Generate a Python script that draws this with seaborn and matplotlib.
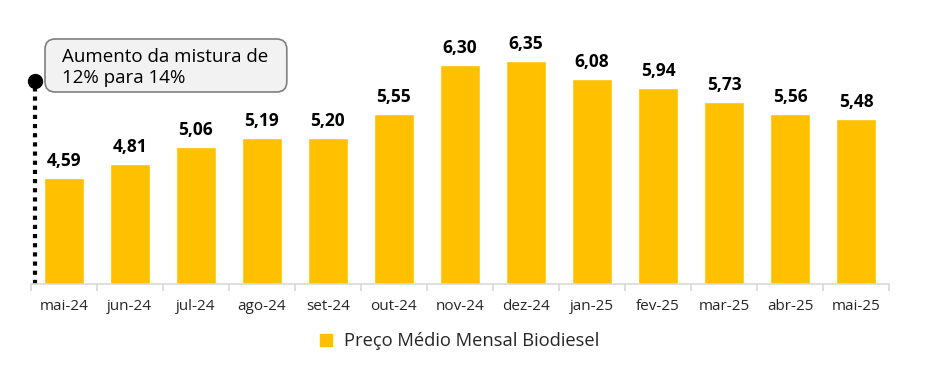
"""Preço médio mensal do biodiesel - gráfico de barras."""

import matplotlib.pyplot as plt
import pandas as pd
import seaborn as sns
from matplotlib.lines import Line2D
from matplotlib.patches import FancyBboxPatch

# Data
months = [
    "mai-24", "jun-24", "jul-24", "ago-24", "set-24", "out-24", "nov-24",
    "dez-24", "jan-25", "fev-25", "mar-25", "abr-25", "mai-25",
]
prices = [4.59, 4.81, 5.06, 5.19, 5.20, 5.55, 6.30, 6.35, 6.08, 5.94, 5.73, 5.56, 5.48]
series_name = "Preço Médio Mensal Biodiesel"
note_text = "Aumento da mistura de\n12% para 14%"

bar_color = "#FFC000"

df = pd.DataFrame({"mes": months, "preco": prices})

sns.set_style("white")
plt.rcParams["font.family"] = ["Open Sans", "DejaVu Sans"]

fig = plt.figure(figsize=(9.3, 3.75), dpi=100)
ax = fig.add_axes([0.033, 0.243, 0.923, 0.709])

sns.barplot(data=df, x="mes", y="preco", color=bar_color, width=0.6,
            saturation=1, ax=ax, label=series_name)

# Value labels
for i, v in enumerate(prices):
    ax.text(i, v + 0.12, f"{v:.2f}".replace(".", ","), ha="center", va="bottom",
            fontsize=12.5, fontweight="bold", color="black")

ax.set_ylim(3.0, 7.0)
ax.set_xlim(-0.5, len(months) - 0.5)
ax.set_xlabel("")
ax.set_ylabel("")
ax.set_yticks([])
for side in ["left", "right", "top"]:
    ax.spines[side].set_visible(False)
ax.spines["bottom"].set_color("#D9D9D9")
ax.spines["bottom"].set_linewidth(1.2)

# category separators as tick marks
ax.set_xticks(range(len(months)))
ax.set_xticklabels(months, fontsize=11, color="#262626")
ax.set_xticks([i - 0.5 for i in range(len(months) + 1)], minor=True)
ax.tick_params(axis="x", which="major", length=0, pad=11)
ax.tick_params(axis="x", which="minor", length=5, width=1.2, color="#D9D9D9",
               direction="out", bottom=True)

# Marker line for blend change
ax.plot([-0.44, -0.44], [3.0, 6.05], linestyle=(0, (1, 1.2)), color="black",
        linewidth=3, solid_capstyle="butt", clip_on=False)
ax.plot([-0.44], [6.05], marker="o", markersize=10, color="black", clip_on=False)

# Annotation box (figure coords)
box = FancyBboxPatch((0.0484, 0.7547), 0.260, 0.1413,
                     boxstyle="round,pad=0,rounding_size=0.011",
                     mutation_aspect=930 / 375, transform=fig.transFigure,
                     facecolor="#F2F2F2", edgecolor="#7F7F7F", linewidth=1.2,
                     zorder=5)
fig.add_artist(box)
fig.text(0.0667, 0.821, note_text, fontsize=13.5, ha="left", va="center",
         linespacing=1.2, color="black", zorder=6)

# Legend
handle = Line2D([], [], marker="s", linestyle="none", markersize=8,
                markerfacecolor=bar_color, markeredgecolor=bar_color)
fig.legend([handle], [series_name], loc="center", bbox_to_anchor=(0.488, 0.09),
           frameon=False, fontsize=13.2, handletextpad=0.0)
if ax.get_legend() is not None:
    ax.get_legend().remove()

plt.savefig("out.png", dpi=100)
plt.close()
